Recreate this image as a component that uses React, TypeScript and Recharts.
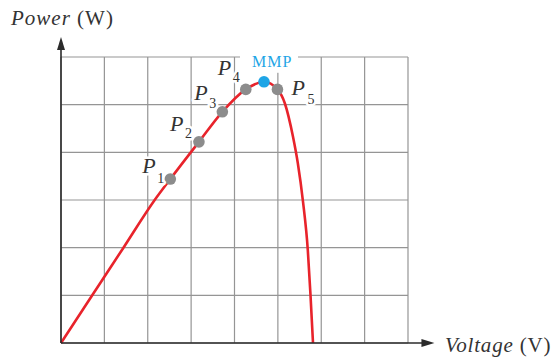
import React from 'react';
import {
  ComposedChart,
  Line,
  Scatter,
  XAxis,
  YAxis,
  CartesianGrid,
  ReferenceLine,
} from 'recharts';

// P-V curve samples
const voltage = [0, 0.72, 1.44, 2.16, 2.52, 3.18, 3.72, 4.26, 4.68, 4.99, 5.16, 5.35, 5.46, 5.58, 5.69, 5.75, 5.81];
const power = [0, 1.0, 2.0, 3.0, 3.44, 4.22, 4.85, 5.32, 5.48, 5.32, 5.03, 4.32, 3.77, 2.96, 1.95, 1.04, 0];

// operating points marked on the curve
const pointNames = ['P1', 'P2', 'P3', 'P4', 'MMP', 'P5'];
const pointVoltage = [2.52, 3.18, 3.72, 4.26, 4.68, 4.99];
const pointPower = [3.44, 4.22, 4.85, 5.32, 5.48, 5.32];

const xTicks = [0, 1, 2, 3, 4, 5, 6, 7, 8];
const yTicks = [0, 1, 2, 3, 4, 5, 6];

const curve = voltage.map((v, i) => ({ v, p: power[i] }));
const points = pointNames.map((name, i) => ({ name, v: pointVoltage[i], p: pointPower[i] }));

const SERIF = '"Liberation Serif", "Times New Roman", serif';
const RED = '#e8232b';
const DOT_GREY = '#8c8c8c';
const BLUE = '#1ea5e6';
const AXIS = '#2b2b2b';

// label placement relative to each dot: P glyph, subscript digit
const labelSpots: Record<string, { px: number; py: number; sx: number; sy: number }> = {
  P1: { px: -28, py: -6, sx: -13, sy: 4 },
  P2: { px: -29, py: -11, sx: -14, sy: -4 },
  P3: { px: -28, py: -12, sx: -13, sy: -4 },
  P4: { px: -28, py: -14, sx: -13, sy: -7 },
  P5: { px: 14, py: 6, sx: 30, sy: 15 },
};

const ArrowLine = (props: any) => {
  const { x1, y1, x2, y2 } = props;
  const horizontal = Math.abs(y2 - y1) < 1;
  const head = horizontal
    ? `${x2},${y2} ${x2 - 13},${y2 - 4} ${x2 - 13},${y2 + 4}`
    : `${x2},${y2} ${x2 - 4},${y2 + 13} ${x2 + 4},${y2 + 13}`;
  return (
    <g>
      <line x1={x1} y1={y1} x2={horizontal ? x2 - 8 : x2} y2={horizontal ? y2 : y2 + 8} stroke={AXIS} strokeWidth={1.6} />
      <polygon points={head} fill={AXIS} />
    </g>
  );
};

const PointShape = (props: any) => {
  const { cx, cy, payload } = props;
  const name: string = payload.name;
  if (name === 'MMP') {
    return (
      <g>
        <rect x={cx - 24} y={cy - 33} width={58} height={24} fill="#fff" />
        <text x={cx - 12} y={cy - 15} fontFamily={SERIF} fontSize={16} letterSpacing={1} fill={BLUE}>
          MMP
        </text>
        <circle cx={cx} cy={cy} r={5.8} fill={BLUE} />
      </g>
    );
  }
  const s = labelSpots[name];
  const halo = { stroke: '#fff', strokeWidth: 5, paintOrder: 'stroke' as const, strokeLinejoin: 'round' as const };
  return (
    <g>
      <circle cx={cx} cy={cy} r={5.8} fill={DOT_GREY} />
      <text x={cx + s.px} y={cy + s.py} fontFamily={SERIF} fontSize={22} fontStyle="italic" fill="#333" {...halo}>
        P
      </text>
      <text x={cx + s.sx} y={cy + s.sy} fontFamily={SERIF} fontSize={14} fill="#333" {...halo}>
        {name.slice(1)}
      </text>
    </g>
  );
};

export default function App() {
  return (
    <div style={{ position: 'absolute', left: 0, top: 0, width: 556, height: 362, background: '#fff' }}>
      <ComposedChart width={556} height={362} data={curve} margin={{ top: 57, right: 148, bottom: 19, left: 61 }}>
        <XAxis type="number" dataKey="v" domain={[0, 8]} ticks={xTicks} hide />
        <YAxis type="number" dataKey="p" domain={[0, 6]} ticks={yTicks} hide />
        <CartesianGrid stroke="#959595" strokeWidth={1.2} />
        <Line
          type="monotone"
          dataKey="p"
          stroke={RED}
          strokeWidth={2.6}
          dot={false}
          activeDot={false}
          isAnimationActive={false}
        />
        <ReferenceLine
          segment={[{ x: 0, y: 0 }, { x: 8.61, y: 0 }]}
          ifOverflow="visible"
          shape={<ArrowLine />}
        />
        <ReferenceLine
          segment={[{ x: 0, y: 0 }, { x: 0, y: 6.42 }]}
          ifOverflow="visible"
          shape={<ArrowLine />}
        />
        <Scatter data={points} dataKey="p" shape={<PointShape />} isAnimationActive={false} />
        <text x={11} y={25} fontFamily={SERIF} fontSize={21} letterSpacing={1} fill="#333">
          <tspan fontStyle="italic">Power</tspan> (W)
        </text>
        <text x={445} y={352} fontFamily={SERIF} fontSize={21} letterSpacing={0.8} fill="#333">
          <tspan fontStyle="italic">Voltage</tspan> (V)
        </text>
      </ComposedChart>
    </div>
  );
}
